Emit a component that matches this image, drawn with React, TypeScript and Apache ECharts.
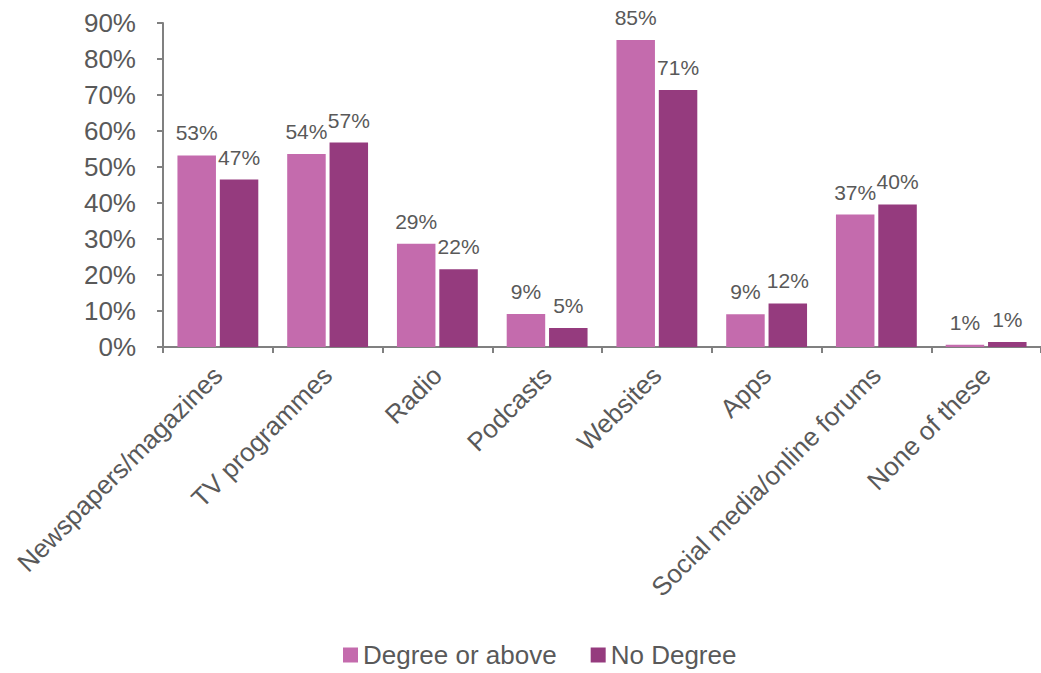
import React, { useEffect, useRef } from "react";
import * as echarts from "echarts";

const categories = [
  "Newspapers/magazines",
  "TV programmes",
  "Radio",
  "Podcasts",
  "Websites",
  "Apps",
  "Social media/online forums",
  "None of these",
];
const degreeOrAbove = [53.2, 53.6, 28.7, 9.2, 85.3, 9.1, 36.8, 0.6];
const noDegree = [46.5, 56.8, 21.6, 5.3, 71.4, 12.1, 39.6, 1.4];
const seriesNames = ["Degree or above", "No Degree"];

const FONT = "'Liberation Sans', Arial, Helvetica, sans-serif";
const TEXT = "#595959";

export default function App() {
  const ref = useRef<HTMLDivElement>(null);
  useEffect(() => {
    const chart = echarts.init(ref.current!, null, { renderer: "svg" });
    const label = {
      show: true,
      position: "top",
      distance: 12,
      color: TEXT,
      fontSize: 21,
      fontFamily: FONT,
      formatter: (p: any) => Math.round(p.value) + "%",
    };
    chart.setOption({
      animation: false,
      textStyle: { fontFamily: FONT },
      grid: { left: 163, right: -5, top: 23, bottom: 326 },
      legend: {
        data: seriesNames,
        bottom: 0,
        left: 338,
        itemWidth: 15,
        itemHeight: 15,
        itemGap: 34,
        icon: "rect",
        textStyle: { color: TEXT, fontSize: 26, fontFamily: FONT },
      },
      xAxis: {
        type: "category",
        data: categories,
        axisLine: { lineStyle: { color: "#808080", width: 2 } },
        axisTick: { show: true, length: 6, lineStyle: { color: "#808080", width: 2 } },
        axisLabel: {
          rotate: 45,
          interval: 0,
          color: TEXT,
          fontSize: 26,
          fontFamily: FONT,
          margin: 24,
        },
      },
      yAxis: {
        type: "value",
        min: 0,
        max: 90,
        interval: 10,
        splitLine: { show: false },
        axisLine: { show: true, lineStyle: { color: "#808080", width: 2 } },
        axisTick: { show: true, length: 6, lineStyle: { color: "#808080", width: 2 } },
        axisLabel: {
          formatter: "{value}%",
          color: TEXT,
          fontSize: 26,
          fontFamily: FONT,
          margin: 27,
        },
      },
      series: [
        {
          name: seriesNames[0],
          type: "bar",
          data: degreeOrAbove,
          barWidth: 38.5,
          barGap: "10%",
          itemStyle: { color: "#C46BAD" },
          label,
        },
        {
          name: seriesNames[1],
          type: "bar",
          data: noDegree,
          barWidth: 38.5,
          itemStyle: { color: "#953B7E" },
          label,
        },
      ],
    });
    return () => chart.dispose();
  }, []);
  return (
    <div
      ref={ref}
      style={{ position: "absolute", left: 0, top: 0, width: 1041, height: 673, background: "#fff" }}
    />
  );
}
